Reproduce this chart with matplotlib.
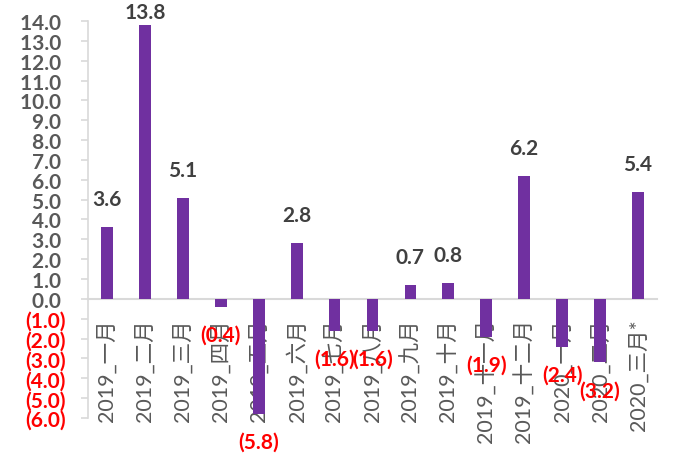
import numpy as np
import matplotlib
matplotlib.use("Agg")
import matplotlib.pyplot as plt

# monthly values (negatives shown in red with parentheses)
months = ["2019_一月", "2019_二月", "2019_三月", "2019_四月", "2019_五月",
          "2019_六月", "2019_七月", "2019_八月", "2019_九月", "2019_十月",
          "2019_十一月", "2019_十二月", "2020_一月", "2020_二月", "2020_三月*"]
values = [3.6, 13.8, 5.1, -0.4, -5.8, 2.8, -1.6, -1.6, 0.7, 0.8,
          -1.9, 6.2, -2.4, -3.2, 5.4]
yticks = np.arange(-6, 15, 1)

PURPLE = "#7030A0"
GRID = "#D9D9D9"
NUM_FONT = ["Lato", "DejaVu Sans"]
LABEL_FONT = ["Lato", "Noto Sans CJK SC", "DejaVu Sans"]


def fmt(v):
    return f"({abs(v):.1f})" if v < 0 else f"{v:.1f}"


def tick_fmt(v):
    # excel style "0.0_);(0.0)" -> positive numbers keep room for ")"
    return f"({abs(v):.1f})" if v < 0 else f"{v:.1f}\u2008"


fig = plt.figure(figsize=(6.75, 4.56), dpi=100)
ax = fig.add_axes([0.1304, 0.0811, 0.9733 - 0.1304, 0.9518 - 0.0811])

x = np.arange(len(months))
ax.bar(x, values, width=0.31, color=PURPLE, zorder=3)

ax.set_xlim(-0.5, len(months) - 0.5)
ax.set_ylim(-6, 14)

# spines: left axis and the zero line only
for s in ["top", "right"]:
    ax.spines[s].set_visible(False)
ax.spines["left"].set_color(GRID)
ax.spines["left"].set_linewidth(1.2)
ax.spines["bottom"].set_position(("data", 0))
ax.spines["bottom"].set_color(GRID)
ax.spines["bottom"].set_linewidth(1.5)

ax.set_yticks(yticks)
ax.set_yticklabels([tick_fmt(v) for v in yticks], fontfamily=NUM_FONT,
                   fontweight="bold", fontsize=15)
for lab, v in zip(ax.get_yticklabels(), yticks):
    lab.set_color("red" if v < 0 else "#595959")
ax.tick_params(axis="y", direction="out", length=5, width=1.2, color=GRID, pad=11)

ax.set_xticks(x)
ax.set_xticklabels(months, rotation=90, fontfamily=LABEL_FONT, fontsize=15.5,
                   color="#595959")
ax.tick_params(axis="x", length=0, pad=14)

# data labels, kept inside the chart area like excel does
off = 1.41
for xi, v in zip(x, values):
    if v >= 0:
        ax.text(xi, min(v + off, 14.45), fmt(v), ha="center", va="center",
                fontfamily=NUM_FONT, fontweight="bold", fontsize=15,
                color="#404040", zorder=5)
    else:
        ax.text(xi, v - off, fmt(v), ha="center", va="center",
                fontfamily=NUM_FONT, fontweight="bold", fontsize=15,
                color="red", zorder=5, clip_on=False)

fig.savefig("out.png", dpi=100)
